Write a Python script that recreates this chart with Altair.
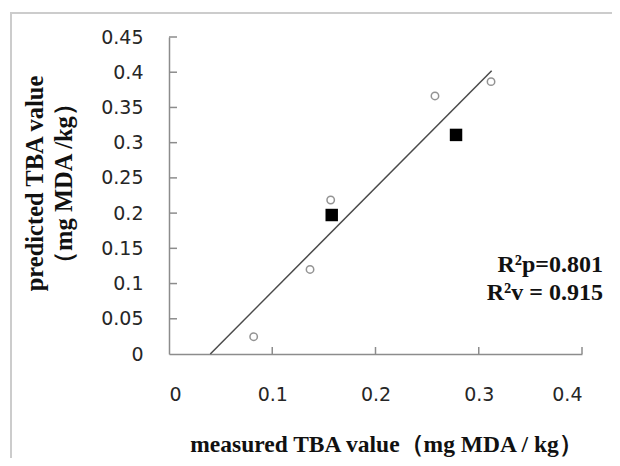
import altair as alt
import pandas as pd

# ---- data ----
x_ticks = [0, 0.1, 0.2, 0.3, 0.4]
y_ticks = [0, 0.05, 0.1, 0.15, 0.2, 0.25, 0.3, 0.35, 0.4, 0.45]

cal_x = [0.082, 0.1366, 0.1566, 0.2576, 0.3119]      # open circles
cal_y = [0.0246, 0.120, 0.2186, 0.3663, 0.3866]
val_x = [0.1576, 0.278]                               # filled squares
val_y = [0.1973, 0.311]
fit_x = [0.04, 0.3125]                                # regression line
fit_y = [0.0, 0.402]
ann_text = ["R²p=0.801", "R²v = 0.915"]
ann_x = [0.4203, 0.4203]
ann_y = [0.1263, 0.0866]

x_title = "measured TBA value（mg MDA / kg）"
y_title = ["predicted TBA value", "（mg MDA  /kg）"]

W, H = 413, 317
AXIS_COLOR = "#8c8c8c"

xs = alt.Scale(domain=[0, 0.4], nice=False, zero=False)
ys = alt.Scale(domain=[0, 0.45], nice=False, zero=False)

x_axis = alt.Axis(values=x_ticks, format="~g", orient="bottom",
                  labelPadding=31, titleX=217, titleY=90, titleFontSize=23.5,
                  titleAlign="center", titleBaseline="middle")
y_axis = alt.Axis(values=y_ticks, format="~g",
                  labelPadding=26, titleAngle=270, titleX=-146, titleY=146,
                  titleAlign="center", titleBaseline="top", titleFontSize=24.5,
                  titleLineHeight=29)


def X(field="x"):
    return alt.X(f"{field}:Q", scale=xs, title=x_title, axis=x_axis)


def Y(field="y"):
    return alt.Y(f"{field}:Q", scale=ys, title=y_title, axis=y_axis)


cal = pd.DataFrame({"x": cal_x, "y": cal_y})
val = pd.DataFrame({"x": val_x, "y": val_y})
fit = pd.DataFrame({"x": fit_x, "y": fit_y})
ann = pd.DataFrame({"x": ann_x, "y": ann_y, "t": ann_text})
xt = pd.DataFrame({"x": x_ticks[1:]})
yt = pd.DataFrame({"y": y_ticks[1:]})

frame = alt.Chart(alt.Data(values=[{"a": 1}])).mark_rect(
    fill=None, stroke="#cccccc", strokeWidth=2
).encode(
    x=alt.value(-158), y=alt.value(-24), x2=alt.value(W + 200), y2=alt.value(H + 200)
)

points = alt.Chart(cal).mark_point(
    shape="circle", filled=False, color="#666666", size=55, strokeWidth=1.5
).encode(x=X(), y=Y())

squares = alt.Chart(val).mark_square(color="#000000", size=155, opacity=1).encode(
    x=X(), y=Y()
)

line = alt.Chart(fit).mark_line(color="#4a4a4a", strokeWidth=1.5).encode(
    x=X(), y=Y()
)

xtick_marks = alt.Chart(xt).mark_rule(color=AXIS_COLOR, strokeWidth=1.5).encode(
    x=X(), y=alt.value(H), y2=alt.value(H - 7),
)

ytick_marks = alt.Chart(yt).mark_rule(color=AXIS_COLOR, strokeWidth=1.5).encode(
    y=Y(), x=alt.value(0), x2=alt.value(8),
)

labels = alt.Chart(ann).mark_text(
    font="Liberation Serif", fontWeight="bold", fontSize=24, align="right",
    baseline="middle", color="#111111"
).encode(x=X(), y=Y(), text="t:N")

chart = alt.layer(
    frame, xtick_marks, ytick_marks, line, points, squares, labels
).properties(
    width=W, height=H,
    autosize=alt.AutoSizeParams(type="none"),
    padding={"left": 161, "top": 29, "right": 30, "bottom": 104},
).configure_view(stroke=None).configure_axis(
    grid=False, ticks=False, tickSize=0,
    domainColor=AXIS_COLOR, domainWidth=1.5,
    labelFont="DejaVu Sans", labelFontSize=19, labelColor="#262626",
    titleFont="Liberation Serif", titleFontWeight="bold",
    titleColor="#111111",
)

chart.save("out.html", embed_options={"renderer": "svg", "actions": False})
